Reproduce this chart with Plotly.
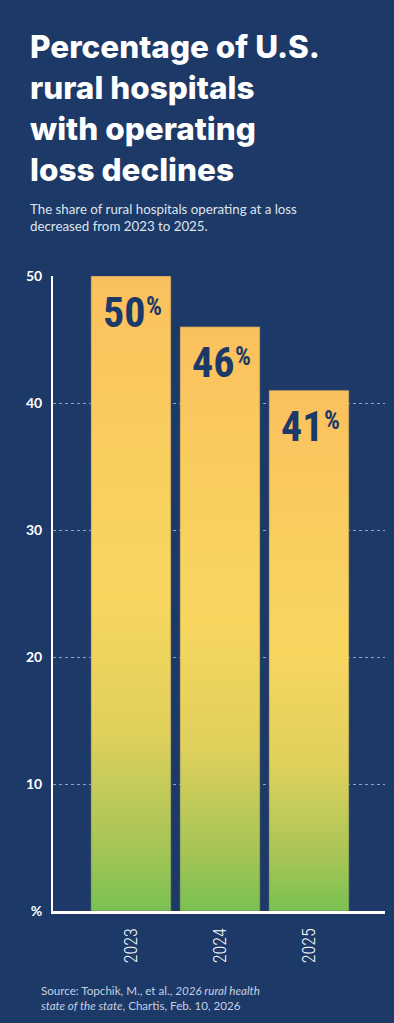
import plotly.graph_objects as go

years = ["2023", "2024", "2025"]
values = [50, 46, 41]
labels = ["50", "46", "41"]
y_ticks = [0, 10, 20, 30, 40, 50]
y_ticktext = ["%", "10", "20", "30", "40", "50"]

BG = "#1c3968"
positions = list(range(len(years)))
half = 0.449
COND = "Roboto Condensed, Noto Sans Condensed, Liberation Sans Narrow, DejaVu Sans Condensed"

fig = go.Figure()
for p, v in zip(positions, values):
    fig.add_trace(go.Scatter(
        x=[p - half, p - half, p + half, p + half, p - half],
        y=[0, v, v, 0, 0],
        mode="lines",
        fill="toself",
        line=dict(width=1, color="rgba(110,110,100,0.55)"),
        fillgradient=dict(
            type="vertical", start=0, stop=v,
            colorscale=[[0, "#79c152"], [0.1, "#a5c556"], [0.28, "#e0d05c"],
                        [0.5, "#f8d660"], [0.75, "#f9cd5f"], [1, "#fbc05e"]],
        ),
        hoverinfo="skip",
        showlegend=False,
    ))

for p, v, lab in zip(positions, values, labels):
    fig.add_annotation(
        x=p, y=v, xref="x", yref="y", text=lab,
        showarrow=False, xanchor="center", yanchor="top",
        xshift=-7, yshift=-9.5,
        font=dict(family=COND, size=42, weight="bold", color="#1c3968"),
    )
    fig.add_annotation(
        x=p, y=v, xref="x", yref="y", text="%",
        showarrow=False, xanchor="left", yanchor="top",
        xshift=13, yshift=-13.5,
        font=dict(family=COND, size=25, weight="bold", color="#1c3968"),
    )

fig.add_annotation(
    xref="paper", yref="paper", x=-0.0753, y=(911 - 24.5) / 635,
    xanchor="left", yanchor="top", align="left", showarrow=False,
    text="Percentage of U.S.<br>rural hospitals<br>with operating<br>loss declines",
    font=dict(family="Inter", size=31.5, weight=800, color="white"),
)
fig.add_annotation(
    xref="paper", yref="paper", x=-0.0753, y=(911 - 199) / 635,
    xanchor="left", yanchor="top", align="left", showarrow=False,
    text="The share of rural hospitals operating at a loss<br>decreased from 2023 to 2025.",
    font=dict(family="Lato", size=13.3, color="#dfe5ef"),
)
fig.add_annotation(
    xref="paper", yref="paper", x=(39 - 53) / 332, y=(911 - 982) / 635,
    xanchor="left", yanchor="top", align="left", showarrow=False,
    text="Source: Topchik, M., et al., <i>2026 rural health</i><br><i>state of the state</i>, Chartis, Feb. 10, 2026",
    font=dict(family="Lato", size=11.6, color="#c7d0e0"),
)

fig.update_layout(
    width=394, height=1023,
    margin=dict(l=53, r=9, t=276, b=112),
    paper_bgcolor=BG, plot_bgcolor=BG,
    showlegend=False,
    xaxis=dict(
        range=[-0.876, 2.854], tickvals=positions, ticktext=years,
        tickangle=-90, showgrid=False, zeroline=False,
        showline=True, linecolor="white", linewidth=3,
        ticks="outside", ticklen=7, tickcolor="rgba(0,0,0,0)",
        tickfont=dict(family=COND, size=18, weight=300, color="white"),
        fixedrange=True,
    ),
    yaxis=dict(
        range=[0, 50], tickvals=y_ticks, ticktext=y_ticktext,
        showgrid=True, gridcolor="rgba(200,210,230,0.7)", griddash="dot", gridwidth=1,
        zeroline=False, showline=True, linecolor="white", linewidth=2,
        ticks="outside", ticklen=6, tickcolor="rgba(0,0,0,0)",
        tickfont=dict(family="Lato", size=14, weight="bold", color="white"),
        fixedrange=True,
    ),
)

fig.write_html(
    "out.html",
    config={"displayModeBar": False},
    post_script="document.body.style.margin='0';document.body.style.overflow='hidden';",
)
